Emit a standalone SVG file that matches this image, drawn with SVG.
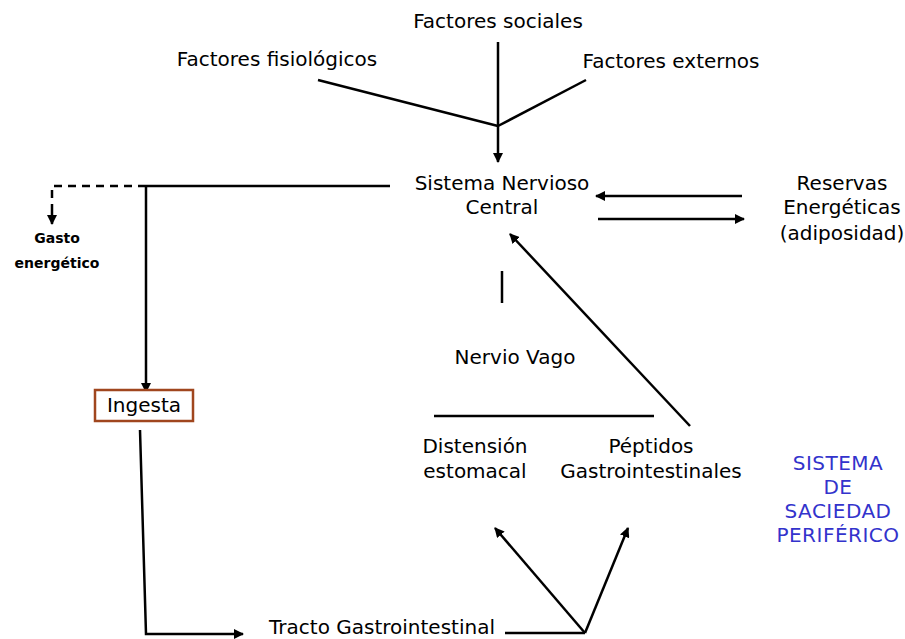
<svg xmlns="http://www.w3.org/2000/svg" width="905" height="639" viewBox="0 0 905 639">
  <style>
    text { font-family: "Comic Sans MS", "DejaVu Sans", sans-serif; font-size: 20px; fill: #000; text-anchor: middle; }
    .small { font-size: 14px; font-weight: bold; }
    .blue { fill: #3333CC; font-size: 20px; letter-spacing: 0.5px; }
    .ln { stroke: #000; stroke-width: 2.5; fill: none; }
    .arr { stroke: #000; stroke-width: 2.5; fill: none; marker-end: url(#ah); }
  </style>
  <defs>
    <marker id="ah" viewBox="0 0 10 10" refX="9" refY="5" markerWidth="4" markerHeight="4" orient="auto" markerUnits="strokeWidth">
      <path d="M0,0 L10,5 L0,10 z" fill="#000"/>
    </marker>
  </defs>
  <rect width="905" height="639" fill="#fff"/>

  <g id="connectors">
    <!-- converging factors -->
    <line class="ln" x1="498" y1="42" x2="498" y2="126"/>
    <line class="ln" x1="318" y1="80" x2="498" y2="126"/>
    <line class="ln" x1="586" y1="80" x2="498" y2="126"/>
    <line class="arr" x1="498" y1="126" x2="498" y2="162"/>
    <!-- SNC outputs -->
    <line class="ln" x1="146" y1="186" x2="390" y2="186"/>
    <path class="ln" d="M146,186 H52 V208" stroke-dasharray="8,6"/>
    <line class="arr" x1="52" y1="208" x2="52" y2="224"/>
    <line class="arr" x1="146" y1="186" x2="146" y2="392"/>
    <!-- reserves loop -->
    <line class="arr" x1="742" y1="196" x2="596" y2="196"/>
    <line class="arr" x1="598" y1="219" x2="744" y2="219"/>
    <!-- ingesta to GI tract -->
    <polyline class="ln" points="140,430 146,634 200,634"/>
    <line class="arr" x1="200" y1="634" x2="243" y2="634"/>
    <line class="ln" x1="505" y1="633" x2="585" y2="633"/>
    <line class="arr" x1="585" y1="633" x2="495" y2="528"/>
    <line class="arr" x1="585" y1="633" x2="628" y2="528"/>
    <!-- feedback to SNC -->
    <line class="ln" x1="434" y1="416" x2="654" y2="416"/>
    <line class="ln" x1="502" y1="303" x2="502" y2="271"/>
    <line class="arr" x1="690" y1="426" x2="510" y2="234"/>
  </g>

  <g id="factores-sociales"><text x="498" y="28">Factores sociales</text></g>
  <g id="factores-fisiologicos"><text x="277" y="66">Factores fisiológicos</text></g>
  <g id="factores-externos"><text x="671" y="68">Factores externos</text></g>
  <g id="snc"><text x="502" y="190">Sistema Nervioso</text><text x="502" y="214">Central</text></g>
  <g id="reservas"><text x="842" y="190">Reservas</text><text x="842" y="214">Energéticas</text><text x="842" y="240">(adiposidad)</text></g>
  <g id="gasto"><text class="small" x="57" y="243">Gasto</text><text class="small" x="57" y="268">energético</text></g>
  <g id="ingesta">
    <rect x="95" y="390" width="98" height="31" fill="#fff" stroke="#A0461E" stroke-width="2.5"/>
    <text x="144" y="412">Ingesta</text>
  </g>
  <g id="nervio-vago"><text x="515" y="364">Nervio Vago</text></g>
  <g id="distension"><text x="475" y="453">Distensión</text><text x="475" y="478">estomacal</text></g>
  <g id="peptidos"><text x="651" y="453">Péptidos</text><text x="651" y="478">Gastrointestinales</text></g>
  <g id="tracto"><text x="382" y="634">Tracto Gastrointestinal</text></g>
  <g id="sistema-saciedad">
    <text class="blue" x="838" y="470">SISTEMA</text>
    <text class="blue" x="838" y="494">DE</text>
    <text class="blue" x="838" y="518">SACIEDAD</text>
    <text class="blue" x="838" y="542">PERIFÉRICO</text>
  </g>
</svg>
